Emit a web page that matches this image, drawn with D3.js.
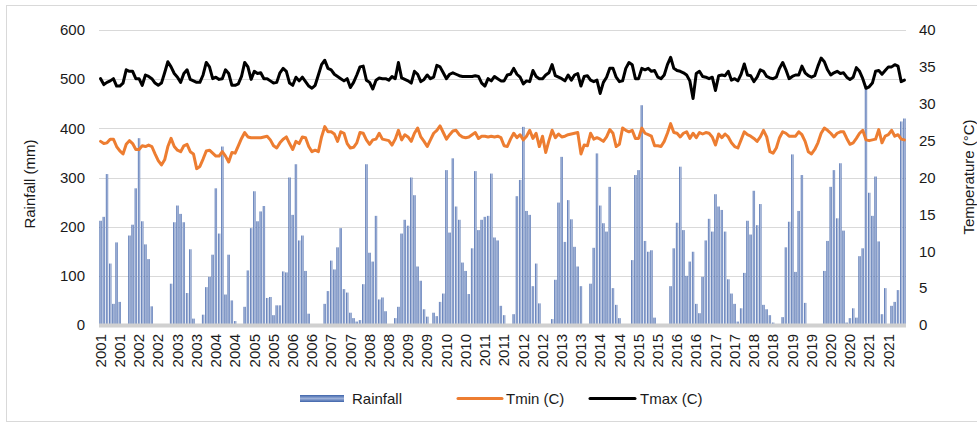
<!DOCTYPE html>
<html>
<head>
<meta charset="utf-8">
<style>
  html, body { margin: 0; padding: 0; background: #fff; }
  svg { display: block; }
  text { font-family: "Liberation Sans", Arial, sans-serif; fill: #1a1a1a; }
</style>
</head>
<body>
<div id="chart-area"></div>

<script src="https://cdn.jsdelivr.net/npm/d3@7"></script>
<script>

    // years on the category axis (12 months each)
    var years = [2001, 2002, 2003, 2004, 2005, 2006, 2007, 2008, 2009, 2010, 2011,
                 2012, 2013, 2014, 2015, 2016, 2017, 2018, 2019, 2020, 2021];

    // monthly rainfall (mm), one row per year
    var rainfall = [
        212, 220, 307, 125, 43, 168, 47, 0, 0, 182, 204, 278,
        380, 211, 164, 134, 38, 0, 0, 2, 0, 0, 84, 209,
        243, 226, 209, 65, 154, 13, 0, 0, 21, 77, 98, 143,
        278, 186, 363, 62, 143, 50, 8, 0, 0, 37, 111, 197,
        272, 211, 231, 242, 55, 57, 20, 40, 40, 109, 107, 300,
        224, 327, 172, 182, 110, 23, 0, 0, 0, 0, 43, 69,
        131, 113, 158, 197, 73, 66, 25, 14, 7, 10, 83, 327,
        147, 129, 222, 52, 56, 28, 0, 0, 14, 37, 186, 214,
        202, 300, 264, 119, 90, 32, 17, 0, 25, 18, 47, 64,
        315, 188, 339, 241, 214, 127, 110, 63, 156, 313, 193, 214,
        220, 222, 308, 178, 172, 39, 20, 0, 0, 22, 262, 295,
        403, 232, 224, 79, 125, 44, 0, 0, 0, 12, 92, 249,
        342, 169, 254, 215, 159, 119, 79, 0, 0, 84, 157, 349,
        243, 207, 190, 281, 75, 41, 14, 0, 0, 0, 132, 305,
        315, 447, 171, 149, 152, 15, 0, 0, 0, 0, 79, 156,
        208, 322, 193, 100, 129, 149, 43, 24, 98, 172, 216, 190,
        266, 241, 234, 190, 93, 64, 43, 7, 34, 106, 212, 184,
        273, 203, 246, 41, 32, 20, 5, 0, 0, 16, 158, 210,
        347, 108, 232, 305, 45, 0, 0, 0, 0, 0, 110, 171,
        281, 315, 217, 329, 192, 5, 14, 34, 15, 140, 156, 487,
        269, 222, 302, 170, 22, 75, 0, 39, 47, 71, 414, 420
    ];

    // monthly minimum temperature (C)
    var tmin = [
        24.9, 24.6, 24.7, 25.2, 25.2, 24.2, 23.6, 23.2, 24.5, 25.0, 24.6, 23.8,
        23.8, 24.3, 24.2, 24.4, 24.2, 23.2, 22.3, 21.7, 22.4, 24.2, 25.3, 24.2,
        23.7, 23.5, 24.3, 24.5, 23.5, 23.2, 21.2, 21.5, 22.5, 23.6, 23.7, 23.3,
        22.9, 22.9, 23.5, 22.9, 22.1, 23.4, 23.3, 24.3, 25.3, 26.1, 25.5, 25.4,
        25.4, 25.4, 25.4, 25.5, 25.6, 25.1, 24.3, 24.0, 24.7, 25.2, 25.5, 24.6,
        23.8, 24.9, 24.6, 25.5, 25.4, 24.2, 23.5, 23.7, 23.5, 25.5, 26.9, 26.2,
        26.2, 25.9, 24.9, 26.2, 26.0, 24.6, 24.0, 24.1, 24.7, 26.1, 26.0, 25.1,
        24.5, 25.1, 25.2, 26.0, 25.2, 25.1, 25.0, 24.4, 25.2, 26.4, 25.1, 25.8,
        25.5, 24.9, 26.0, 26.7, 25.5, 24.9, 24.2, 25.1, 26.0, 26.4, 27.0, 26.1,
        25.2, 25.8, 26.3, 26.4, 25.8, 25.5, 25.4, 25.5, 25.8, 26.1, 25.3, 25.6,
        25.6, 25.5, 25.6, 25.5, 25.6, 25.4, 24.3, 24.2, 25.2, 26.0, 25.4, 25.8,
        25.1, 25.6, 26.4, 25.3, 26.0, 24.2, 25.6, 23.4, 25.0, 26.4, 25.4, 25.9,
        25.5, 25.6, 25.8, 25.9, 26.0, 26.1, 23.2, 24.4, 24.3, 26.0, 25.2, 25.4,
        25.2, 24.9, 25.5, 26.5, 26.0, 24.2, 24.5, 26.7, 26.4, 26.2, 26.4, 25.3,
        25.3, 26.7, 26.0, 25.8, 25.6, 24.3, 24.3, 24.2, 24.9, 26.0, 27.3, 26.1,
        26.0, 25.5, 26.0, 26.2, 25.3, 26.0, 25.4, 26.1, 25.9, 26.1, 26.0, 25.5,
        24.4, 25.9, 25.4, 25.9, 25.5, 24.7, 24.2, 24.0, 25.1, 26.2, 25.8, 25.6,
        25.3, 24.9, 25.5, 26.4, 25.5, 23.5, 23.3, 24.0, 25.4, 26.2, 26.0, 25.6,
        25.6, 25.6, 26.2, 25.8, 24.9, 23.5, 23.2, 23.8, 24.7, 26.0, 26.7, 26.4,
        26.0, 25.5, 26.0, 26.2, 26.2, 25.3, 24.5, 24.7, 25.3, 26.0, 26.4, 25.1,
        25.0, 25.1, 25.2, 26.5, 24.7, 25.6, 25.8, 26.4, 25.6, 25.8, 25.2, 25.1
    ];

    // monthly maximum temperature (C)
    var tmax = [
        33.4, 32.6, 32.9, 33.1, 33.4, 32.4, 32.4, 32.8, 34.6, 34.4, 34.4, 33.4,
        33.4, 32.5, 33.9, 33.7, 33.4, 32.8, 32.5, 32.8, 34.2, 35.7, 35.0, 34.1,
        33.6, 32.9, 34.1, 34.6, 33.3, 33.1, 32.9, 32.9, 33.9, 35.6, 35.0, 33.4,
        33.6, 33.3, 33.4, 34.6, 34.1, 32.5, 32.5, 32.7, 33.7, 35.6, 35.0, 33.3,
        34.4, 34.1, 34.2, 33.4, 33.4, 33.1, 32.8, 32.9, 34.2, 34.8, 34.4, 32.8,
        32.5, 33.6, 33.1, 33.6, 33.0, 32.4, 32.1, 32.5, 33.9, 35.3, 35.9, 34.8,
        34.6, 34.0, 33.7, 33.4, 33.1, 33.4, 32.2, 32.9, 33.9, 35.0, 35.1, 33.2,
        32.9, 32.0, 33.2, 33.5, 33.4, 33.4, 33.2, 33.7, 33.4, 35.6, 33.5, 33.3,
        33.1, 32.8, 34.4, 34.0, 33.0, 33.3, 33.9, 33.4, 33.6, 35.2, 35.0, 34.2,
        33.4, 34.0, 34.2, 34.0, 33.8, 33.7, 33.7, 33.7, 33.7, 33.8, 33.7, 32.8,
        32.4, 33.4, 33.1, 33.7, 33.4, 33.1, 33.1, 33.9, 34.0, 34.8, 34.0, 33.6,
        32.7, 33.1, 33.0, 34.5, 33.7, 33.4, 33.4, 33.9, 34.2, 35.3, 33.8, 33.6,
        33.4, 33.1, 33.9, 33.2, 33.9, 34.1, 32.4, 33.7, 33.8, 33.2, 33.0, 33.2,
        31.4, 32.9, 33.6, 34.8, 34.8, 33.6, 33.0, 33.1, 34.8, 35.6, 35.3, 33.4,
        33.4, 34.8, 34.6, 34.8, 34.4, 34.5, 33.6, 33.4, 33.9, 35.3, 36.3, 34.8,
        34.5, 34.4, 34.2, 33.9, 33.1, 30.7, 34.1, 34.4, 33.7, 33.6, 33.4, 33.6,
        31.8, 33.8, 33.9, 33.8, 34.4, 33.2, 33.4, 33.1, 34.0, 35.4, 33.9, 33.8,
        33.0, 33.6, 34.6, 34.4, 33.7, 33.5, 33.4, 33.6, 34.8, 35.6, 34.6, 33.4,
        33.7, 33.9, 33.9, 35.1, 34.2, 33.8, 33.6, 33.8, 35.1, 36.2, 35.7, 34.6,
        33.9, 34.2, 34.4, 34.1, 34.2, 33.6, 33.3, 33.6, 34.9, 34.4, 33.4, 32.1,
        32.3, 32.8, 34.4, 34.5, 34.0, 34.5, 35.0, 35.0, 35.3, 35.1, 33.0, 33.2
    ];

    var rainTicks = [0, 100, 200, 300, 400, 500, 600];
    var tempTicks = [0, 5, 10, 15, 20, 25, 30, 35, 40];

    // one category per month, label shown every 6 months
    var months = [];
    years.forEach(function(y) {
        for (var m = 0; m < 12; m++) months.push({ year: y, month: m });
    });

    const width = 977;
    const height = 423;
    const plotLeft = 99, plotRight = 906, plotTop = 30, plotBottom = 325;

    const svg = d3.select("#chart-area")
        .append("svg")
            .attr("width", width)
            .attr("height", height);

    // bar fills
    const defs = svg.append("defs");
    const barGrad = defs.append("linearGradient")
        .attr("id", "barGrad")
        .attr("x1", "0").attr("x2", "1").attr("y1", "0").attr("y2", "0");
    barGrad.append("stop").attr("offset", "0%").attr("stop-color", "#2f559f");
    barGrad.append("stop").attr("offset", "35%").attr("stop-color", "#8ea3cf");
    barGrad.append("stop").attr("offset", "65%").attr("stop-color", "#aab9da");
    barGrad.append("stop").attr("offset", "100%").attr("stop-color", "#3c60a6");

    const legGrad = defs.append("linearGradient")
        .attr("id", "legGrad")
        .attr("x1", "0").attr("x2", "0").attr("y1", "0").attr("y2", "1");
    legGrad.append("stop").attr("offset", "0%").attr("stop-color", "#3d63aa");
    legGrad.append("stop").attr("offset", "50%").attr("stop-color", "#9cb0d8");
    legGrad.append("stop").attr("offset", "100%").attr("stop-color", "#3d63aa");

    // outer frame
    svg.append("rect")
        .attr("x", 6.5).attr("y", 5.5)
        .attr("width", 990).attr("height", 416)
        .attr("fill", "none")
        .attr("stroke", "#d9d9d9");

    const x = d3.scaleBand()
        .domain(d3.range(months.length))
        .range([plotLeft, plotRight])
        .padding(0);
    const bw = x.bandwidth();

    const yRain = d3.scaleLinear().domain([0, 600]).range([plotBottom, plotTop]);
    const yTemp = d3.scaleLinear().domain([0, 40]).range([plotBottom, plotTop]);

    // gridlines
    svg.append("g")
        .selectAll("line")
        .data(rainTicks.slice(1))
        .enter().append("line")
            .attr("x1", plotLeft).attr("x2", plotRight)
            .attr("y1", d => Math.round(yRain(d)) + 0.5)
            .attr("y2", d => Math.round(yRain(d)) + 0.5)
            .attr("stroke", "#d9d9d9")
            .attr("stroke-width", 1);

    // rainfall bars
    svg.append("g")
        .selectAll("rect")
        .data(rainfall)
        .enter().append("rect")
            .attr("x", (d, i) => x(i) + bw * 0.14)
            .attr("width", bw * 0.72)
            .attr("y", d => yRain(d))
            .attr("height", d => plotBottom - yRain(d))
            .attr("fill", "url(#barGrad)");

    // category axis line
    svg.append("line")
        .attr("x1", plotLeft).attr("x2", plotRight)
        .attr("y1", plotBottom + 0.5).attr("y2", plotBottom + 0.5)
        .attr("stroke", "#d0d0d0")
        .attr("stroke-width", 4);

    // temperature lines
    const tempLine = d3.line()
        .x((d, i) => x(i) + bw / 2)
        .y(d => yTemp(d));

    svg.append("path")
        .datum(tmin)
        .attr("d", tempLine)
        .attr("fill", "none")
        .attr("stroke", "#ed7d31")
        .attr("stroke-width", 3)
        .attr("stroke-linejoin", "round")
        .attr("stroke-linecap", "round");

    svg.append("path")
        .datum(tmax)
        .attr("d", tempLine)
        .attr("fill", "none")
        .attr("stroke", "#000")
        .attr("stroke-width", 3)
        .attr("stroke-linejoin", "round")
        .attr("stroke-linecap", "round");

    // left axis labels
    svg.append("g")
        .selectAll("text")
        .data(rainTicks)
        .enter().append("text")
            .attr("x", 85)
            .attr("y", d => yRain(d))
            .attr("dy", "0.35em")
            .attr("text-anchor", "end")
            .style("font-size", "15px")
            .text(d => d);

    // right axis labels
    svg.append("g")
        .selectAll("text")
        .data(tempTicks)
        .enter().append("text")
            .attr("x", 919)
            .attr("y", d => yTemp(d))
            .attr("dy", "0.35em")
            .attr("text-anchor", "start")
            .style("font-size", "15px")
            .text(d => d);

    // category labels (every 6th month)
    svg.append("g")
        .selectAll("text")
        .data(months.filter((d, i) => i % 6 === 0))
        .enter().append("text")
            .attr("transform", function(d) {
                var i = months.indexOf(d);
                return "translate(" + (x(i) + bw / 2) + "," + 334 + ") rotate(-90)";
            })
            .attr("dy", "0.35em")
            .attr("text-anchor", "end")
            .style("font-size", "15px")
            .text(d => d.year);

    // axis titles
    svg.append("text")
        .attr("transform", "translate(30,184) rotate(-90)")
        .attr("dy", "0.35em")
        .attr("text-anchor", "middle")
        .style("font-size", "15px")
        .text("Rainfall (mm)");

    svg.append("text")
        .attr("transform", "translate(969,177) rotate(-90)")
        .attr("dy", "0.35em")
        .attr("text-anchor", "middle")
        .style("font-size", "15px")
        .text("Temperature (°C)");

    // legend
    const legend = svg.append("g");
    legend.append("rect")
        .attr("x", 300).attr("y", 395)
        .attr("width", 44).attr("height", 7)
        .attr("fill", "url(#legGrad)");
    legend.append("text")
        .attr("x", 352).attr("y", 399)
        .attr("dy", "0.35em")
        .style("font-size", "15px")
        .text("Rainfall");

    legend.append("line")
        .attr("x1", 458).attr("x2", 502)
        .attr("y1", 398.5).attr("y2", 398.5)
        .attr("stroke", "#ed7d31").attr("stroke-width", 3)
        .attr("stroke-linecap", "round");
    legend.append("text")
        .attr("x", 506).attr("y", 399)
        .attr("dy", "0.35em")
        .style("font-size", "15px")
        .text("Tmin (C)");

    legend.append("line")
        .attr("x1", 590).attr("x2", 635)
        .attr("y1", 398.5).attr("y2", 398.5)
        .attr("stroke", "#000").attr("stroke-width", 3)
        .attr("stroke-linecap", "round");
    legend.append("text")
        .attr("x", 640).attr("y", 399)
        .attr("dy", "0.35em")
        .style("font-size", "15px")
        .text("Tmax (C)");

</script>
</body>
</html>
